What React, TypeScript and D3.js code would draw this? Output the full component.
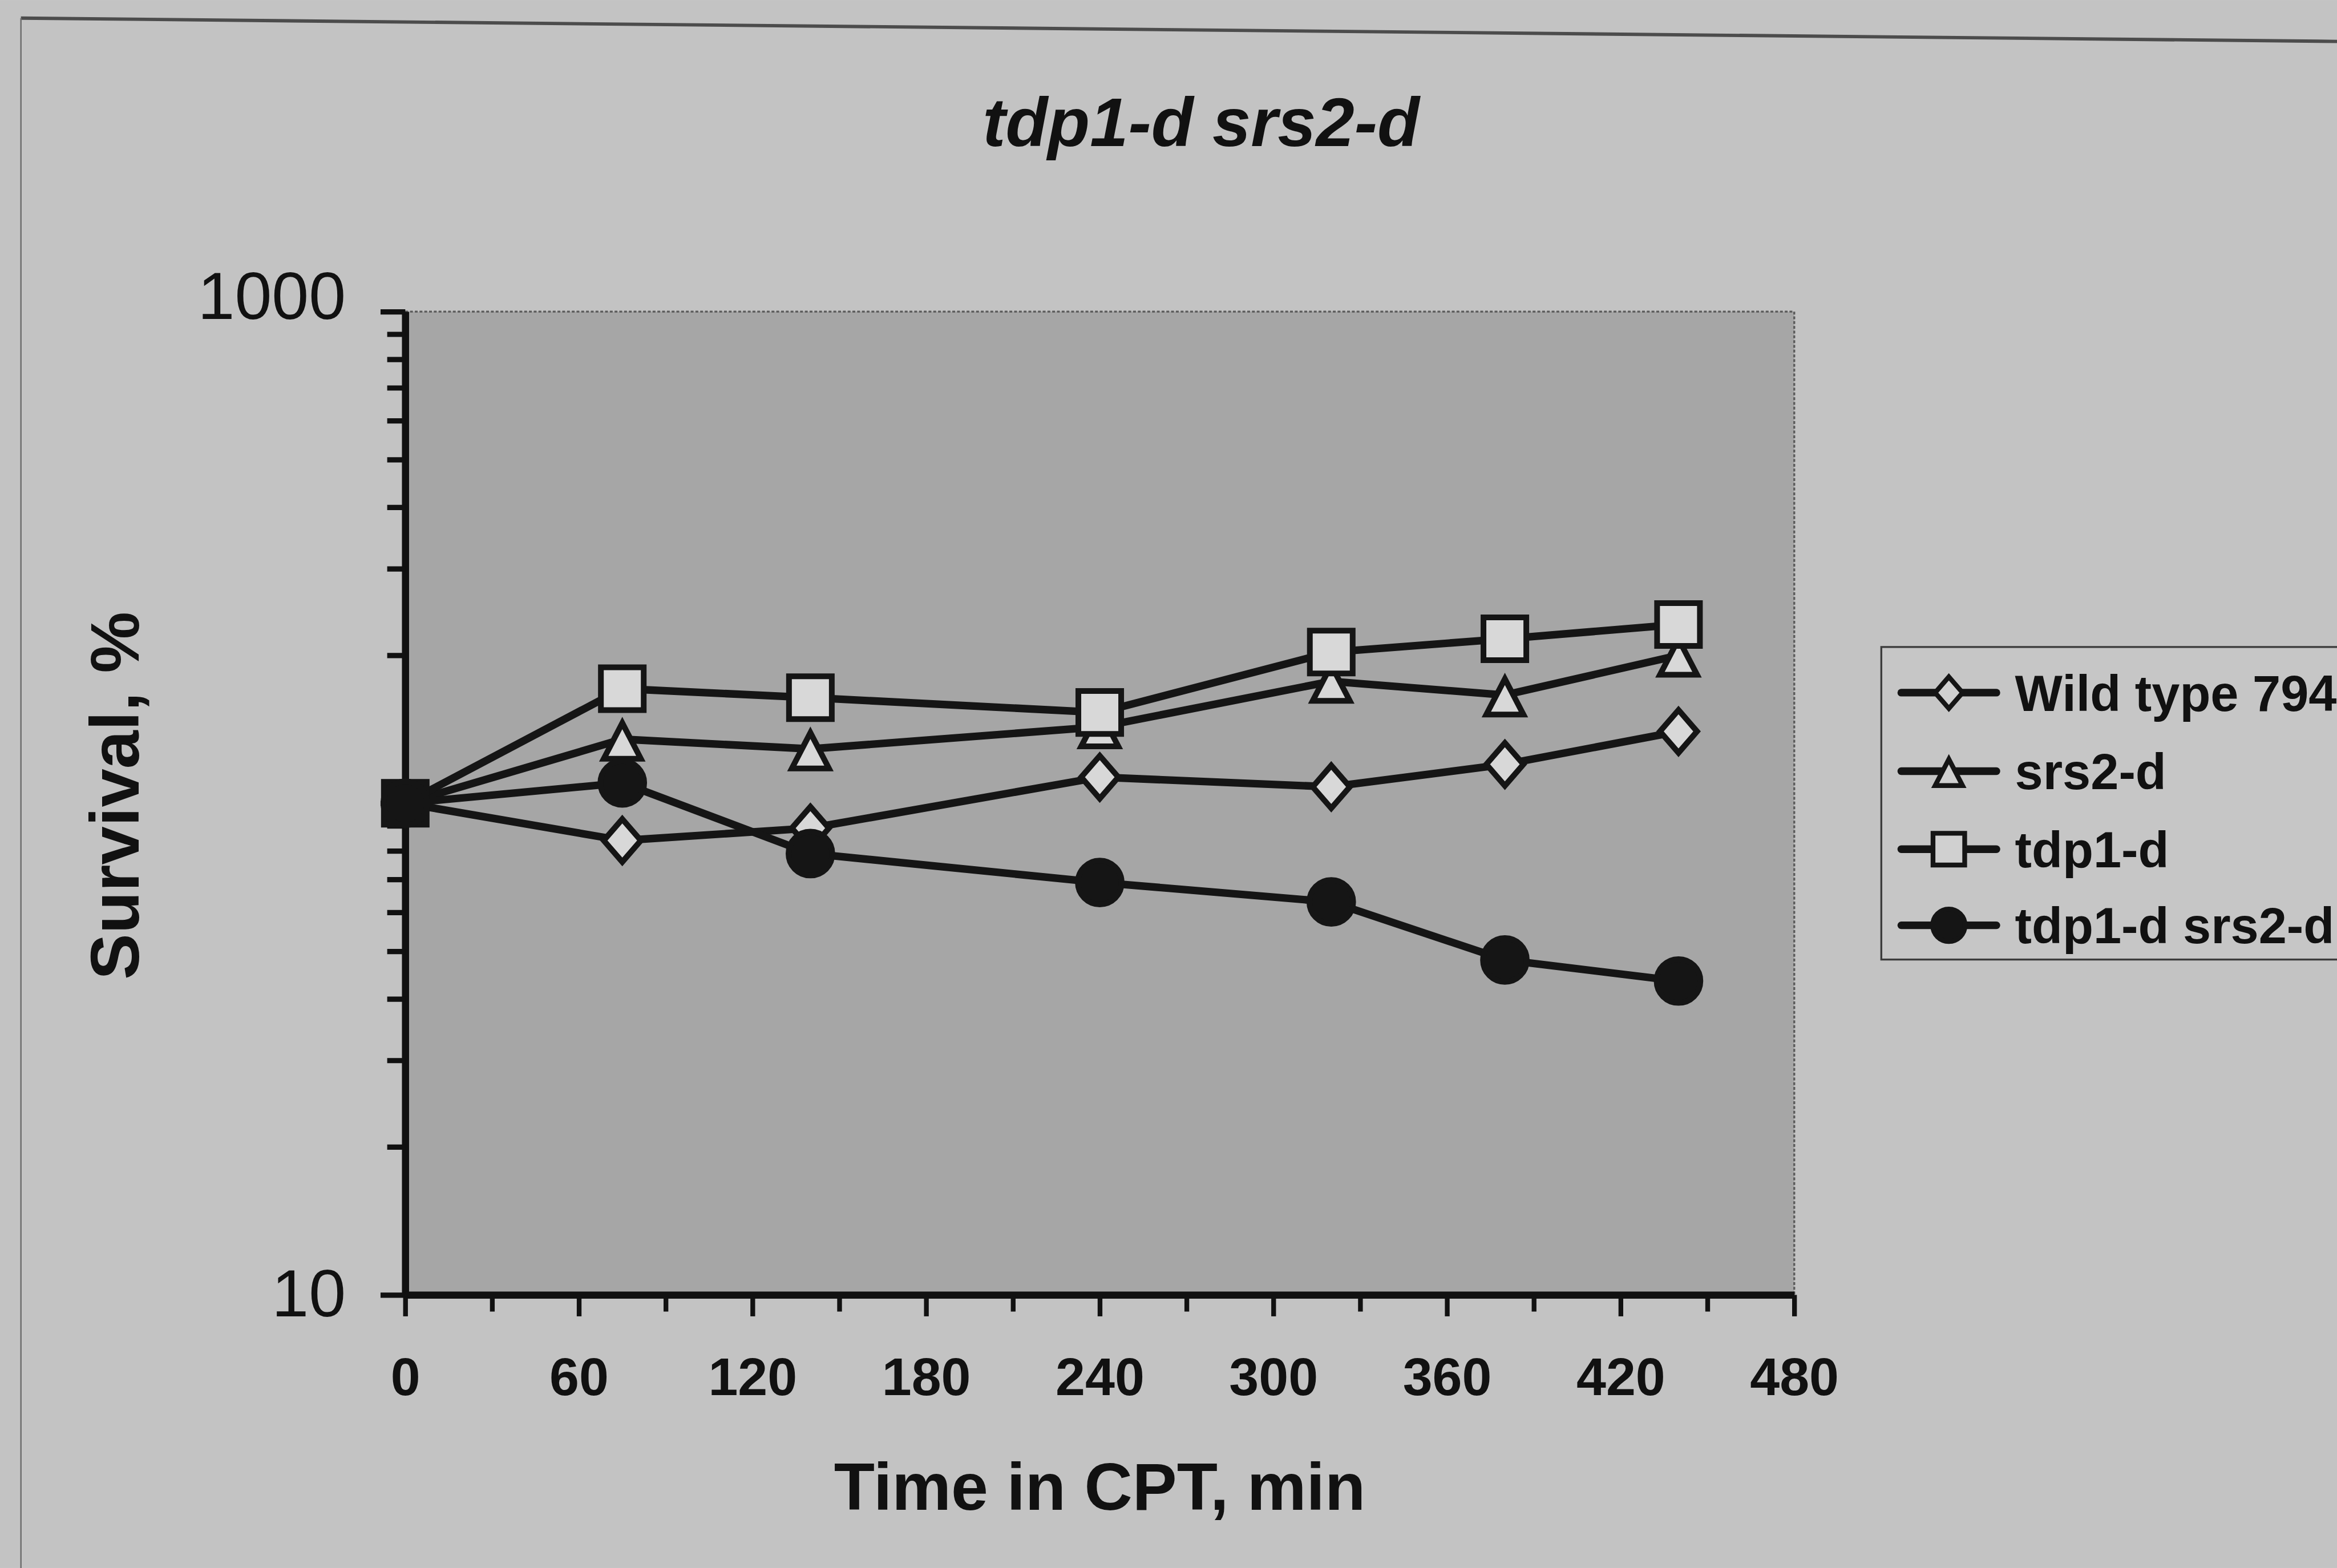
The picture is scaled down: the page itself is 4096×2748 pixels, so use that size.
import { useEffect, useRef } from "react";
import * as d3 from "d3";

// time in CPT, minutes
const times = [0, 75, 140, 240, 320, 380, 440];

// survival, %
const wildType794 = [100, 84, 89, 113, 108, 120, 140];
const srs2d = [100, 135, 129, 143, 177, 166, 200];
const tdp1d = [100, 171, 164, 153, 203, 216, 231];
const tdp1dSrs2d = [100, 110, 79, 69, 63, 48, 43.5];

const seriesNames = ["Wild type 794", "srs2-d", "tdp1-d", "tdp1-d srs2-d"];
const seriesShapes = ["diamond", "triangle", "square", "circle"];

const xTickLabels = [0, 60, 120, 180, 240, 300, 360, 420, 480];
const yTickLabels = [10, 1000];

const W = 4913;
const H = 3296;
const FONT = "'Liberation Sans', Arial, Helvetica, sans-serif";

function markerPath(shape: string, k: number) {
  switch (shape) {
    case "diamond": {
      const a = 39 * k, b = 45 * k;
      return `M0,${-b}L${a},0L0,${b}L${-a},0Z`;
    }
    case "triangle": {
      const w = 39 * k, top = 34 * k, bot = 41 * k;
      return `M0,${-top}L${w},${bot}L${-w},${bot}Z`;
    }
    case "square": {
      const s = 45 * k;
      return `M${-s},${-s}H${s}V${s}H${-s}Z`;
    }
    default: {
      const r = 46 * k;
      return `M${r},0A${r},${r} 0 1,1 ${-r},0A${r},${r} 0 1,1 ${r},0Z`;
    }
  }
}

export default function App() {
  const svgRef = useRef<SVGSVGElement>(null);

  useEffect(() => {
    if (!svgRef.current) return;
    const svg = d3.select(svgRef.current);
    svg.selectAll("*").remove();

    const plot = { left: 852, right: 3772, top: 655, bottom: 2722 };
    const x = d3.scaleLinear().domain([0, 480]).range([plot.left, plot.right]);
    const y = d3.scaleLog().domain([10, 1000]).range([plot.bottom, plot.top]);

    // page background + scanned frame edges
    svg.append("rect").attr("width", W).attr("height", H).attr("fill", "#c3c3c3");
    svg
      .append("line")
      .attr("x1", 44).attr("y1", 38).attr("x2", W).attr("y2", 87)
      .attr("stroke", "#4c4c4c").attr("stroke-width", 7);
    svg
      .append("line")
      .attr("x1", 44).attr("y1", 38).attr("x2", 44).attr("y2", H)
      .attr("stroke", "#6e6e6e").attr("stroke-width", 3);

    // plot area
    svg
      .append("rect")
      .attr("x", x(0))
      .attr("y", y(1000))
      .attr("width", x(480) - x(0))
      .attr("height", y(10) - y(1000))
      .attr("fill", "#a6a6a6")
      .attr("stroke", "#5a5a5a")
      .attr("stroke-width", 4)
      .attr("stroke-dasharray", "6 4");

    // y axis (log)
    const yTicks = d3.range(10, 100, 10).concat(d3.range(100, 1001, 100));
    const yAxis = svg
      .append("g")
      .attr("transform", `translate(${plot.left},0)`)
      .call(
        d3
          .axisLeft(y)
          .tickValues(yTicks)
          .tickSize(38)
          .tickSizeOuter(0)
          .tickFormat((d) => (yTickLabels.includes(+d) ? String(d) : ""))
      );
    yAxis.select(".domain").attr("stroke", "#111").attr("stroke-width", 15);
    yAxis
      .selectAll<SVGLineElement, number>(".tick line")
      .attr("stroke", "#111")
      .attr("stroke-width", 11)
      .attr("x2", (d) => ([10, 100, 1000].includes(d) ? -52 : -38));
    yAxis
      .selectAll<SVGTextElement, number>(".tick text")
      .attr("x", -125)
      .attr("y", (d) => (d === 1000 ? -30 : 0))
      .attr("font-family", FONT)
      .attr("font-size", 140)
      .attr("fill", "#111");

    // x axis
    const xAxis = svg
      .append("g")
      .attr("transform", `translate(0,${plot.bottom})`)
      .call(
        d3
          .axisBottom(x)
          .tickValues(d3.range(0, 481, 30))
          .tickSize(33)
          .tickSizeOuter(0)
          .tickFormat((d) => (xTickLabels.includes(+d) ? String(d) : ""))
      );
    xAxis.select(".domain").attr("stroke", "#111").attr("stroke-width", 15);
    xAxis
      .selectAll<SVGLineElement, number>(".tick line")
      .attr("stroke", "#111")
      .attr("stroke-width", 10)
      .attr("y2", (d) => (d % 60 === 0 ? 45 : 35));
    xAxis
      .selectAll(".tick text")
      .attr("y", 170)
      .attr("dy", "0.36em")
      .attr("font-family", FONT)
      .attr("font-size", 112)
      .attr("font-weight", "bold")
      .attr("fill", "#111");

    // series
    const seriesValues = [wildType794, srs2d, tdp1d, tdp1dSrs2d];
    const line = d3
      .line<number>()
      .x((_, i) => x(times[i]))
      .y((v) => y(v));

    seriesValues.forEach((vals, si) => {
      const g = svg.append("g");
      g.append("path")
        .attr("d", line(vals))
        .attr("fill", "none")
        .attr("stroke", "#151515")
        .attr("stroke-width", 16)
        .attr("stroke-linejoin", "round");
      g.selectAll("path.marker")
        .data(vals)
        .join("path")
        .attr("class", "marker")
        .attr("transform", (v, i) => `translate(${x(times[i])},${y(v)})`)
        .attr("d", markerPath(seriesShapes[si], 1))
        .attr("fill", (_, i) =>
          i === 0 || seriesShapes[si] === "circle" ? "#151515" : "#d8d8d8"
        )
        .attr("stroke", "#151515")
        .attr("stroke-width", 12)
        .attr("stroke-miterlimit", 10);
    });

    // legend
    const legend = svg.append("g");
    legend
      .append("rect")
      .attr("x", 3955)
      .attr("y", 1360)
      .attr("width", 1000)
      .attr("height", 657)
      .attr("fill", "#c6c6c6")
      .attr("stroke", "#3c3c3c")
      .attr("stroke-width", 4);
    const rowY = [1456, 1621, 1785, 1945];
    seriesNames.forEach((name, si) => {
      const row = legend.append("g").attr("transform", `translate(0,${rowY[si]})`);
      row
        .append("line")
        .attr("x1", 3997)
        .attr("x2", 4197)
        .attr("stroke", "#151515")
        .attr("stroke-width", 16)
        .attr("stroke-linecap", "round");
      row
        .append("path")
        .attr("transform", "translate(4097,0)")
        .attr("d", markerPath(seriesShapes[si], 0.74))
        .attr("fill", seriesShapes[si] === "circle" ? "#151515" : "#d0d0d0")
        .attr("stroke", "#151515")
        .attr("stroke-width", 10);
      row
        .append("text")
        .attr("x", 4236)
        .attr("dy", "0.36em")
        .attr("font-family", FONT)
        .attr("font-size", 106)
        .attr("font-weight", "bold")
        .attr("fill", "#111")
        .text(name);
    });

    // titles
    svg
      .append("text")
      .attr("x", 2525)
      .attr("y", 307)
      .attr("text-anchor", "middle")
      .attr("font-family", FONT)
      .attr("font-size", 145)
      .attr("font-weight", "bold")
      .attr("font-style", "italic")
      .attr("fill", "#111")
      .text("tdp1-d srs2-d");

    svg
      .append("text")
      .attr("x", (plot.left + plot.right) / 2)
      .attr("y", 3174)
      .attr("text-anchor", "middle")
      .attr("font-family", FONT)
      .attr("font-size", 140)
      .attr("font-weight", "bold")
      .attr("fill", "#111")
      .text("Time in CPT, min");

    svg
      .append("text")
      .attr("transform", `translate(292,${(plot.top + plot.bottom) / 2 - 16}) rotate(-90)`)
      .attr("text-anchor", "middle")
      .attr("font-family", FONT)
      .attr("font-size", 145)
      .attr("font-weight", "bold")
      .attr("fill", "#111")
      .text("Survival, %");
  }, []);

  return (
    <svg
      ref={svgRef}
      width={4096}
      height={2748}
      viewBox={`0 0 ${W} ${H}`}
      style={{ position: "absolute", left: 0, top: 0, display: "block" }}
    />
  );
}
